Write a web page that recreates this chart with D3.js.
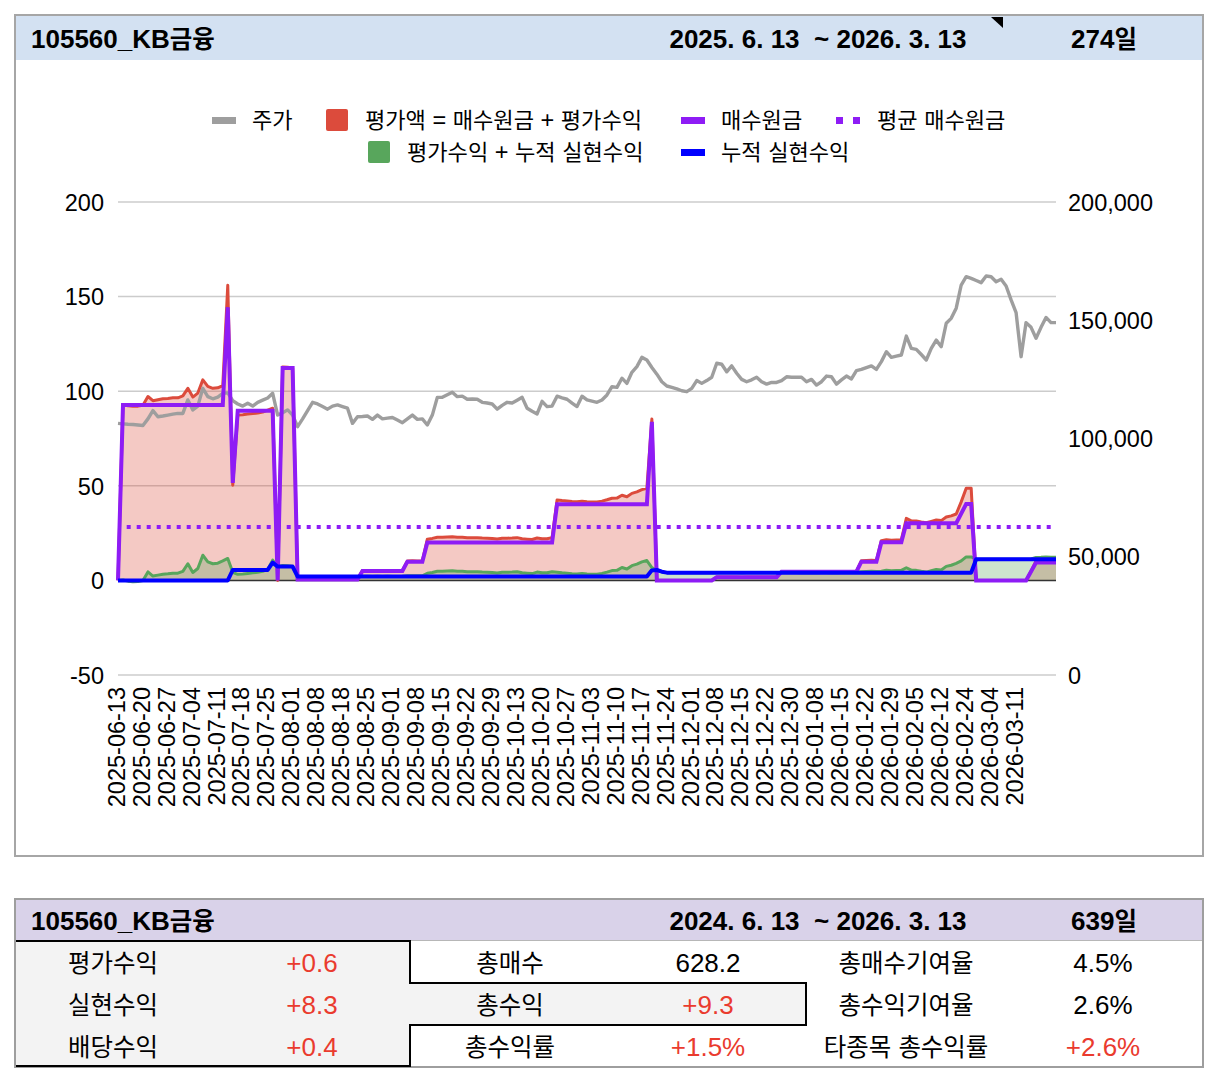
<!DOCTYPE html>
<html>
<head>
<meta charset="utf-8">
<script src="https://cdn.jsdelivr.net/npm/d3@7"></script>
<style>
  body { margin: 0; background: #fff; }
  svg { display: block; font-family: "Liberation Sans", "Noto Sans CJK KR", Arial, sans-serif; }
</style>
</head>
<body>
<div id="chart"></div>
<script>
// ---- header / table texts ----
const stockName = "105560_KB금융";
const chartPeriod = "2025. 6. 13  ~ 2026. 3. 13";
const chartDays = "274일";
const tablePeriod = "2024. 6. 13  ~ 2026. 3. 13";
const tableDays = "639일";

const legendNames = ["주가", "평가액 = 매수원금 + 평가수익", "매수원금", "평균 매수원금",
                     "평가수익 + 누적 실현수익", "누적 실현수익"];

// x tick labels (every 5th trading day)
const tickLabels = [
  "2025-06-13","2025-06-20","2025-06-27","2025-07-04","2025-07-11","2025-07-18","2025-07-25",
  "2025-08-01","2025-08-08","2025-08-18","2025-08-25","2025-09-01","2025-09-08","2025-09-15",
  "2025-09-22","2025-09-29","2025-10-13","2025-10-20","2025-10-27","2025-11-03","2025-11-10",
  "2025-11-17","2025-11-24","2025-12-01","2025-12-08","2025-12-15","2025-12-22","2025-12-30",
  "2026-01-08","2026-01-15","2026-01-22","2026-01-29","2026-02-05","2026-02-12","2026-02-24",
  "2026-03-04","2026-03-11"
];
const labelEvery = 5;

const leftTicks = [-50, 0, 50, 100, 150, 200];
const rightTicks = [0, 50000, 100000, 150000, 200000];

// 주가 (won)
const price = [
  106400,106200,106000,105900,105700,105500,108300,111800,109200,109500,
  109900,110300,110600,110600,116300,112100,113700,121200,117700,116800,
  117500,119100,119300,116000,114600,113700,114900,113700,115300,116200,
  117100,119100,109900,110900,112100,109900,105000,108300,111800,115300,
  114600,113500,112400,113700,114200,113500,112800,106400,109200,109300,
  109500,108100,109900,108300,108600,108900,107800,106700,108300,109900,
  108100,108300,105700,109900,117400,117400,118500,119600,117700,117900,
  116600,116700,116600,115300,115000,114600,112400,114000,115300,115000,
  116200,117400,112800,111500,110400,115700,113500,113700,117900,117200,
  116600,115000,113500,117900,116300,115800,115300,116300,118400,121900,
  121600,125500,123300,128000,130400,134300,133200,130000,127200,124000,
  122200,121600,121000,120200,119800,121200,124500,123300,124500,125900,
  131800,131400,128200,130700,127600,125000,124000,124800,125900,124000,
  123000,123700,123700,124500,126100,125900,125900,125900,124000,125000,
  122600,124000,126400,126100,123000,124800,126400,125200,128700,129200,
  130000,130700,129200,132500,136700,134300,134800,135300,143300,138100,
  137700,135500,133200,138100,141600,138800,148700,150800,155100,164900,
  168400,167700,166800,165900,168700,168400,166300,167300,164500,158600,
  153200,134600,149000,147000,142400,147000,151200,149000,149000
];

// 매수원금
const cost = [
  0,92.7,92.7,92.7,92.7,92.7,92.7,92.7,92.7,92.7,
  92.7,92.7,92.7,92.7,92.7,92.7,92.7,92.7,92.7,92.7,
  92.7,92.7,144.4,51.5,89.7,89.7,89.7,89.7,89.7,89.7,
  89.7,89.7,0,112.2,112.2,112.2,0.5,0.5,0.5,0.5,
  0.5,0.5,0.5,0.5,0.5,0.5,0.5,0.5,0.5,5,
  5,5,5,5,5,5,5,5,9.9,9.9,
  9.9,9.9,20,20,20,20,20,20,20,20,
  20,20,20,20,20,20,20,20,20,20,
  20,20,20,20,20,20,20,20,40.2,40.2,
  40.2,40.2,40.2,40.2,40.2,40.2,40.2,40.2,40.2,40.2,
  40.2,40.2,40.2,40.2,40.2,40.2,40.2,83.8,0,0,
  0,0,0,0,0,0,0,0,0,0,
  1.7,1.7,1.7,1.7,1.7,1.7,1.7,1.7,1.7,1.7,
  1.7,1.7,1.7,4.6,4.6,4.6,4.6,4.6,4.6,4.6,
  4.6,4.6,4.6,4.6,4.6,4.6,4.6,4.6,4.6,9.9,
  9.9,9.9,9.9,20.2,20.2,20.2,20.2,20.2,30.2,30.2,
  30.2,30.2,30.2,30.2,30.2,30.2,30.2,30.2,30.2,35.3,
  40.4,40.4,0,0,0,0,0,0,0,0,
  0,0,0,4.7,9.4,9.4,9.4,9.4,9.4
];

// 평가액 = 매수원금 + 평가수익
const evalValue = [
  0,92.9,92.3,92.0,92.1,92.6,97.2,95.0,95.5,96.0,
  96.2,96.5,96.5,97.5,101.5,96.9,99.0,106.0,102.5,101.5,
  101.8,103.0,156.0,50.3,87.4,87.6,87.9,88.2,88.5,89.0,
  90.0,91.0,0,112.8,112.6,112.3,0.5,0.5,0.5,0.5,
  0.5,0.5,0.5,0.5,0.5,0.5,0.5,0.5,0.5,5.2,
  5.2,5.1,5.2,5.1,5.2,5.1,5.1,5.2,10.3,10.4,
  10.3,10.3,21.8,22.2,22.8,22.8,23.0,23.1,22.8,22.8,
  22.6,22.6,22.6,22.4,22.3,22.2,21.9,22.3,22.3,22.4,
  22.6,22.0,21.8,21.6,22.4,22.0,22.0,22.6,42.5,42.2,
  42.0,41.7,41.6,41.8,41.6,41.5,41.5,41.9,42.6,43.4,
  43.5,45.0,44.2,46.0,46.8,48.0,48.7,85.3,0,0,
  0,0,0,0,0,0,0,0,0,0,
  1.8,1.8,1.8,1.8,1.8,1.7,1.8,1.8,1.8,1.8,
  1.8,1.8,1.8,4.7,4.7,4.7,4.7,4.6,4.7,4.6,
  4.6,4.7,4.7,4.6,4.6,4.7,4.7,4.7,4.8,10.4,
  10.5,10.6,10.5,21.0,21.5,21.2,21.3,21.4,32.8,31.5,
  31.4,30.9,30.5,31.2,31.9,31.6,33.5,34.1,35.1,41.5,
  48.7,48.7,0,0,0,0,0,0,0,0,
  0,0,0,4.8,10.3,10.4,10.6,10.5,10.5
];

// 누적 실현수익
const realized = [
  0,0,0,0,0,0,0,0,0,0,
  0,0,0,0,0,0,0,0,0,0,
  0,0,0,5.5,5.5,5.5,5.5,5.5,5.5,5.5,
  5.5,9.4,7.3,7.3,7.3,7.3,2,2,2,2,
  2,2,2,2,2,2,2,2,2,2,
  2,2,2,2,2,2,2,2,2,2,
  2,2,2,2,2,2,2,2,2,2,
  2,2,2,2,2,2,2,2,2,2,
  2,2,2,2,2,2,2,2,2,2,
  2,2,2,2,2,2,2,2,2,2,
  2,2,2,2,2,2,2,5.3,5.5,4.6,
  4.1,4.1,4.1,4.1,4.1,4.1,4.1,4.1,4.1,4.1,
  4.1,4.1,4.1,4.1,4.1,4.1,4.1,4.1,4.1,4.1,
  4.1,4.1,4.1,4.1,4.1,4.1,4.1,4.1,4.1,4.1,
  4.1,4.1,4.1,4.1,4.1,4.1,4.1,4.1,4.1,4.1,
  4.1,4.1,4.1,4.1,4.1,4.1,4.1,4.1,4.1,4.1,
  4.1,4.1,4.1,4.1,4.1,4.1,4.1,4.1,4.1,4.1,
  4.1,4.1,11.2,11.2,11.2,11.2,11.2,11.2,11.2,11.2,
  11.2,11.2,11.2,11.2,11.2,11.2,11.2,11.2,11.2
];

// 평균 매수원금
const avgCost = 28.2;

// summary table
const colA = ["평가수익", "실현수익", "배당수익"];
const valA = ["+0.6", "+8.3", "+0.4"];
const colB = ["총매수", "총수익", "총수익률"];
const valB = ["628.2", "+9.3", "+1.5%"];
const colC = ["총매수기여율", "총수익기여율", "타종목 총수익률"];
const valC = ["4.5%", "2.6%", "+2.6%"];

// 평가수익 + 누적 실현수익
const profitPlusRealized = evalValue.map((v, i) => v - cost[i] + realized[i]);

// ---- colours ----
const cGray = "#9e9e9e", cRed = "#dc4b3c", cGreen = "#58a65c",
      cPurple = "#8e1cf5", cBlue = "#0000ff", cPlus = "#ea3b2e";

// text helper: Hangul runs are set a bit smaller, like the original font
const HANGUL = /([\u3131-\uD7A3]+)/;
function richText(g, str, x, y, size, opt = {}) {
  const t = g.append("text")
    .attr("x", x).attr("y", y)
    .attr("font-size", size)
    .attr("text-anchor", opt.anchor || "start")
    .attr("fill", opt.color || "#000")
    .attr("font-weight", opt.bold ? "bold" : null)
    .style("white-space", "pre");
  str.split(HANGUL).filter(s => s.length).forEach(s => {
    t.append("tspan")
      .attr("font-size", HANGUL.test(s) ? size * 0.94 : size)
      .text(s);
  });
  return t;
}

const W = 1224, H = 1084;
const svg = d3.select("#chart").append("svg")
  .attr("width", W).attr("height", H);

// ---- chart frame + header ----
svg.append("rect")
  .attr("x", 15).attr("y", 15).attr("width", 1188).attr("height", 841)
  .attr("fill", "#fff").attr("stroke", "#a6a6a6").attr("stroke-width", 2);
svg.append("rect")
  .attr("x", 16).attr("y", 16).attr("width", 1186).attr("height", 44)
  .attr("fill", "#d3e1f2");
svg.append("polygon")
  .attr("points", "991,17 1003,17 1003,28")
  .attr("fill", "#000");

richText(svg, stockName, 31, 48, 26, {bold: true});
richText(svg, chartPeriod, 818, 48, 26, {bold: true, anchor: "middle"});
richText(svg, chartDays, 1104, 48, 26, {bold: true, anchor: "middle"});

// ---- scales ----
const plot = {left: 118, right: 1056, top: 202, bottom: 675};
const N = price.length;
const x = d3.scalePoint().domain(d3.range(N)).range([plot.left, plot.right]);
const yL = d3.scaleLinear().domain([-50, 200]).range([plot.bottom, plot.top]);
const yR = d3.scaleLinear().domain([0, 200000]).range([plot.bottom, plot.top]);

const g = svg.append("g");

// gridlines
g.selectAll(".grid")
  .data(leftTicks.filter(d => d !== 0))
  .join("line")
    .attr("class", "grid")
    .attr("x1", plot.left).attr("x2", plot.right)
    .attr("y1", d => yL(d)).attr("y2", d => yL(d))
    .attr("stroke", "#cccccc").attr("stroke-width", 1.5);

// areas
const area = d3.area().x((d, i) => x(i)).y0(yL(0)).y1(d => yL(d));
const line = d3.line().x((d, i) => x(i)).y(d => yL(d));

g.append("path").datum(evalValue)
  .attr("d", area).attr("fill", cRed).attr("fill-opacity", 0.3);
g.append("path").datum(profitPlusRealized)
  .attr("d", area).attr("fill", cGreen).attr("fill-opacity", 0.3);

// baseline at 0
g.append("line")
  .attr("x1", plot.left).attr("x2", plot.right)
  .attr("y1", yL(0)).attr("y2", yL(0))
  .attr("stroke", "#333").attr("stroke-width", 1.5);

g.append("path").datum(evalValue)
  .attr("d", line).attr("fill", "none")
  .attr("stroke", cRed).attr("stroke-width", 3).attr("stroke-linejoin", "round");
g.append("path").datum(profitPlusRealized)
  .attr("d", line).attr("fill", "none")
  .attr("stroke", cGreen).attr("stroke-width", 3).attr("stroke-linejoin", "round");

// price line (right axis)
g.append("path").datum(price)
  .attr("d", d3.line().x((d, i) => x(i)).y(d => yR(d)))
  .attr("fill", "none")
  .attr("stroke", cGray).attr("stroke-width", 3.4).attr("stroke-linejoin", "round");

// cost line
g.append("path").datum(cost)
  .attr("d", line).attr("fill", "none")
  .attr("stroke", cPurple).attr("stroke-width", 4).attr("stroke-linejoin", "miter");

// average cost (dotted)
g.append("line")
  .attr("x1", x(0)).attr("x2", x(N - 1))
  .attr("y1", yL(avgCost)).attr("y2", yL(avgCost))
  .attr("stroke", cPurple).attr("stroke-width", 4)
  .attr("stroke-dasharray", "4 6").attr("stroke-dashoffset", 1.3);

// realized line
g.append("path").datum(realized)
  .attr("d", line).attr("fill", "none")
  .attr("stroke", cBlue).attr("stroke-width", 4).attr("stroke-linejoin", "round");

// ---- axes ----
const axisFont = 23.5;
const leftAxis = svg.append("g")
  .attr("transform", `translate(${plot.left},0)`)
  .call(d3.axisLeft(yL).tickValues(leftTicks).tickSize(0).tickPadding(14)
    .tickFormat(d => String(d)));
const rightAxis = svg.append("g")
  .attr("transform", `translate(${plot.right},0)`)
  .call(d3.axisRight(yR).tickValues(rightTicks).tickSize(0).tickPadding(12)
    .tickFormat(d3.format(",")));
const tickIdx = tickLabels.map((d, i) => i * labelEvery);
const bottomAxis = svg.append("g")
  .attr("transform", `translate(0,${plot.bottom})`)
  .call(d3.axisBottom(x).tickValues(tickIdx).tickSize(0)
    .tickFormat((d, i) => tickLabels[i]));

[leftAxis, rightAxis, bottomAxis].forEach(a => {
  a.attr("font-size", null).attr("font-family", null);
  a.select(".domain").remove();
  a.selectAll("text").attr("fill", "#000").style("font-size", axisFont + "px");
});
leftAxis.selectAll("text").attr("dy", "0.35em");
rightAxis.selectAll("text").attr("dy", "0.35em");
bottomAxis.selectAll("text")
  .attr("transform", "rotate(-90)")
  .attr("text-anchor", "end")
  .attr("x", -12).attr("y", -2)
  .attr("dy", "0.35em");

// ---- legend ----
const lg = svg.append("g");
lg.append("rect").attr("x", 212).attr("y", 117).attr("width", 24).attr("height", 7).attr("fill", cGray);
richText(lg, legendNames[0], 252, 128, axisFont);
lg.append("rect").attr("x", 326).attr("y", 109).attr("width", 22).attr("height", 22).attr("rx", 2).attr("fill", cRed);
richText(lg, legendNames[1], 365, 128, axisFont);
lg.append("rect").attr("x", 681).attr("y", 117).attr("width", 24).attr("height", 7).attr("fill", cPurple);
richText(lg, legendNames[2], 721, 128, axisFont);
lg.append("rect").attr("x", 836).attr("y", 117).attr("width", 7).attr("height", 7).attr("fill", cPurple);
lg.append("rect").attr("x", 853).attr("y", 117).attr("width", 7).attr("height", 7).attr("fill", cPurple);
richText(lg, legendNames[3], 877, 128, axisFont);
lg.append("rect").attr("x", 368).attr("y", 141).attr("width", 22).attr("height", 22).attr("rx", 2).attr("fill", cGreen);
richText(lg, legendNames[4], 407, 160, axisFont);
lg.append("rect").attr("x", 681).attr("y", 149).attr("width", 24).attr("height", 7).attr("fill", cBlue);
richText(lg, legendNames[5], 721, 160, axisFont);

// ---- summary table ----
const tb = svg.append("g");
tb.append("rect")
  .attr("x", 15).attr("y", 899).attr("width", 1188).attr("height", 168)
  .attr("fill", "#fff").attr("stroke", "#9e9e9e").attr("stroke-width", 2);
tb.append("rect")
  .attr("x", 16).attr("y", 900).attr("width", 1186).attr("height", 40)
  .attr("fill", "#d9d2e9");
tb.append("line")
  .attr("x1", 16).attr("x2", 1202).attr("y1", 940.5).attr("y2", 940.5)
  .attr("stroke", "#b7b7b7").attr("stroke-width", 1);
tb.append("polygon")
  .attr("points", "16,941 410,941 410,983 806,983 806,1025 410,1025 410,1066 16,1066")
  .attr("fill", "#f3f3f3");
tb.append("polyline")
  .attr("points", "16,941 410,941 410,983 806,983 806,1025 410,1025 410,1066 16,1066")
  .attr("fill", "none").attr("stroke", "#000").attr("stroke-width", 2);

richText(tb, stockName, 31, 930, 26, {bold: true});
richText(tb, tablePeriod, 818, 930, 26, {bold: true, anchor: "middle"});
richText(tb, tableDays, 1104, 930, 26, {bold: true, anchor: "middle"});

const rowBase = [972, 1014, 1056];
const valColor = s => s.startsWith("+") ? cPlus : "#000";
rowBase.forEach((yb, r) => {
  richText(tb, colA[r], 113, yb, 26, {anchor: "middle"});
  richText(tb, valA[r], 312, yb, 26, {anchor: "middle", color: valColor(valA[r])});
  richText(tb, colB[r], 510, yb, 26, {anchor: "middle"});
  richText(tb, valB[r], 708, yb, 26, {anchor: "middle", color: valColor(valB[r])});
  richText(tb, colC[r], 906, yb, 26, {anchor: "middle"});
  richText(tb, valC[r], 1103, yb, 26, {anchor: "middle", color: valColor(valC[r])});
});
</script>
</body>
</html>
